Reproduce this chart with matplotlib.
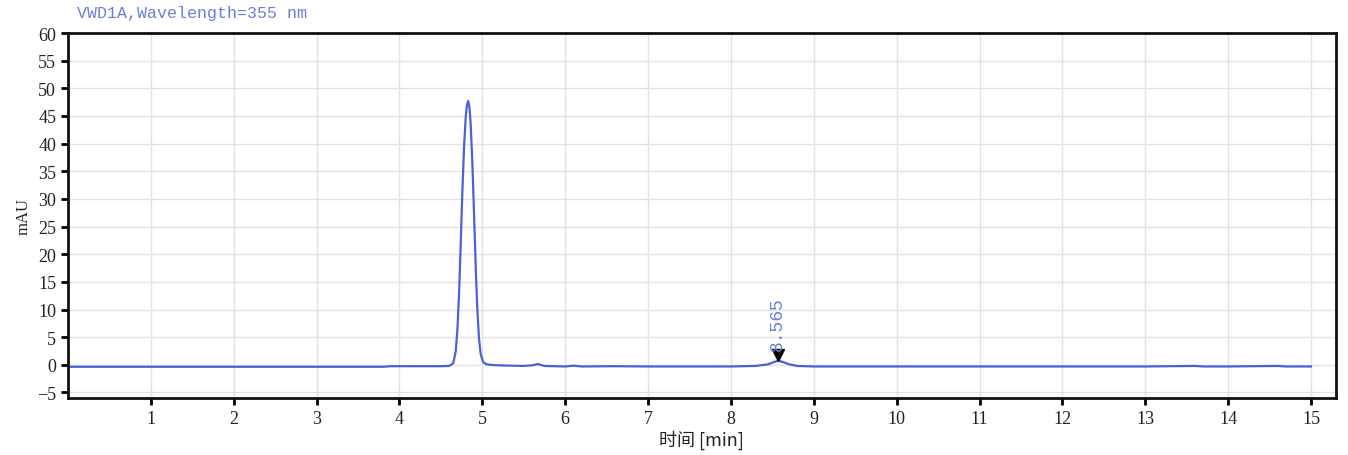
import matplotlib
matplotlib.use('Agg')
import matplotlib.pyplot as plt

# chromatogram trace (time in min, signal in mAU)
time_min = [0.0, 1.0, 2.0, 3.0, 3.8, 3.9, 4.2, 4.5, 4.6, 4.65, 4.68, 4.70, 4.72, 4.74, 4.76,
            4.78, 4.80, 4.815, 4.83, 4.845, 4.86, 4.88, 4.90, 4.92, 4.94, 4.96, 4.98,
            5.01, 5.05, 5.1, 5.2, 5.5, 5.6, 5.67, 5.75, 6.0, 6.1, 6.2, 6.6, 7.0, 7.5,
            8.0, 8.3, 8.45, 8.52, 8.57, 8.63, 8.7, 8.8, 9.0, 10.0, 11.0, 12.0, 13.0,
            13.6, 13.7, 14.0, 14.6, 14.7, 15.0]
signal_mau = [-0.35, -0.35, -0.35, -0.35, -0.35, -0.25, -0.25, -0.25, -0.2, 0.3, 2.5, 6.5, 13.0, 22.0, 31.5,
              39.5, 44.8, 47.0, 47.7, 46.6, 43.5, 36.5, 27.5, 18.0, 10.0, 4.8, 2.0,
              0.5, 0.1, 0.0, -0.1, -0.2, -0.1, 0.15, -0.2, -0.3, -0.15, -0.3, -0.25, -0.3, -0.3,
              -0.3, -0.2, 0.1, 0.5, 0.75, 0.5, 0.1, -0.2, -0.3, -0.3, -0.3, -0.3, -0.3,
              -0.2, -0.3, -0.3, -0.2, -0.3, -0.3]

peak_time = 8.565
peak_label = '8.565'
x_ticks = list(range(1, 16))
y_ticks = list(range(-5, 61, 5))

line_color = '#4a62d4'
text_blue = '#6a7fd8'
serif = ['Liberation Serif', 'DejaVu Serif']

fig = plt.figure(figsize=(13.48, 4.56), dpi=100)
ax = fig.add_axes([0.0504, 0.125, 0.9406, 0.8004])

ax.plot(time_min, signal_mau, color=line_color, lw=1.6)

# peak marker + label
ax.plot([peak_time], [1.7], marker='v', color='black', markersize=9)
ax.text(peak_time, 2.6, peak_label, rotation=90, ha='center', va='bottom',
        color=text_blue, fontsize=13, family=['Liberation Mono', 'DejaVu Sans Mono'])

ax.set_xlim(0, 15.3)
ax.set_ylim(-6, 60)
ax.set_xticks(x_ticks)
ax.set_yticks(y_ticks)
ax.grid(True, color='#e2e2e2', lw=1)
ax.set_axisbelow(True)

for sp in ax.spines.values():
    sp.set_linewidth(2)
    sp.set_color('#111111')
ax.tick_params(direction='out', length=5, width=2, labelsize=13)
for lab in ax.get_xticklabels() + ax.get_yticklabels():
    lab.set_family(serif)
    lab.set_color('#222222')

ax.set_xlabel('时间 [min]', fontsize=13, family=['Noto Sans CJK SC', 'DejaVu Sans'],
              color='#222222', labelpad=2)
ax.set_ylabel('mAU', fontsize=12, family=serif, color='#222222', labelpad=4)

fig.text(0.057, 0.955, 'VWD1A,Wavelength=355 nm', color=text_blue, fontsize=12,
         family=['Liberation Mono', 'DejaVu Sans Mono'], va='bottom')

fig.savefig('out.png', dpi=100, facecolor='white')
